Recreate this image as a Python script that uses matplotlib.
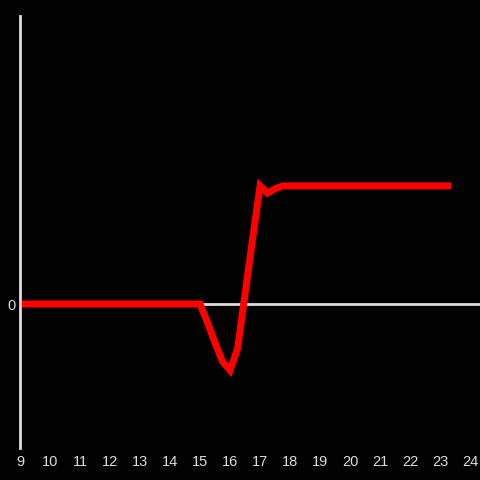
import numpy as np
import matplotlib
matplotlib.use("Agg")
from matplotlib import pyplot as plt

# hours (quarter-hour steps) and values
hours = np.arange(9.0, 23.26, 0.25)
vals = np.zeros(len(hours))
dip = {15.25: -0.13, 15.5: -0.27, 15.75: -0.40, 16.0: -0.46, 16.25: -0.31,
       16.5: 0.07, 16.75: 0.45, 17.0: 0.82, 17.25: 0.77, 17.5: 0.80}
for h in hours:
    i = int(round((h - 9.0) / 0.25))
    if h >= 17.75:
        vals[i] = 0.82
    elif h in dip:
        vals[i] = dip[h]

xticks = list(range(9, 25))

bg = "#030203"
grey = "#dddddd"

fig = plt.figure(figsize=(4.8, 4.8), dpi=100, facecolor=bg)
ax = fig.add_axes([20/480, 32/480, 460/480, 432/480], facecolor=bg)
ax.axhline(0, color=grey, lw=2, zorder=1)
ax.plot(hours, vals, color="#ff0000", lw=5, solid_capstyle="projecting",
        solid_joinstyle="miter", zorder=2)
ax.set_xlim(9, 24.33)
ax.set_ylim(-1, 2)
ax.set_xticks(xticks)
ax.set_yticks([0])
for s in ["top", "right", "bottom"]:
    ax.spines[s].set_visible(False)
ax.spines["left"].set_color(grey)
ax.spines["left"].set_linewidth(2)
ax.tick_params(length=0, colors=grey, labelsize=10.5, pad=5)
for lab in ax.get_xticklabels() + ax.get_yticklabels():
    lab.set_family("Liberation Sans")
ax.tick_params(axis="y", pad=3)

fig.savefig("out.png", facecolor=bg)
